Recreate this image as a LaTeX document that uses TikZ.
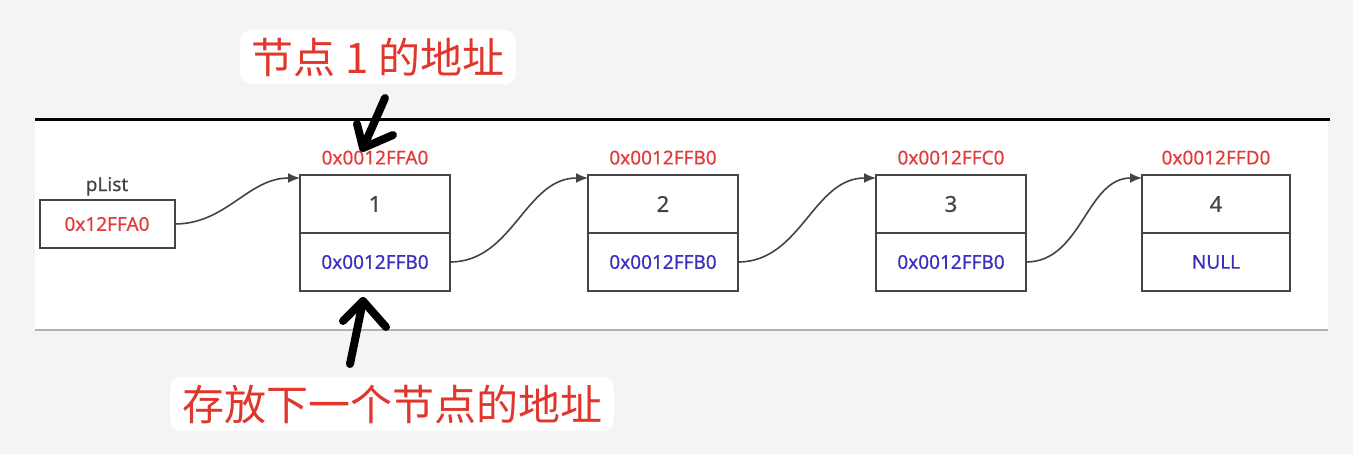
\documentclass[tikz,border=0pt]{standalone}
\usepackage{fontspec}
\setmainfont{Noto Sans}
\newfontfamily\semi[FakeBold=0.5]{Noto Sans}
\newfontfamily\cjk{Noto Sans CJK SC}
\usetikzlibrary{positioning,arrows.meta}
\definecolor{addrred}{HTML}{E23B3B}
\definecolor{ptrblue}{HTML}{3A2FC0}
\definecolor{notered}{HTML}{E0362C}
\definecolor{boxline}{HTML}{444444}
\definecolor{pagebg}{HTML}{F4F4F4}
\tikzset{
  cell/.style={draw=boxline,line width=1pt,minimum width=75pt,minimum height=29pt,inner sep=0pt,outer sep=0pt,text=boxline,font=\semi\fontsize{11}{13}\selectfont},
  ptr/.style={cell,text=ptrblue,font=\semi\fontsize{9.5}{11}\selectfont},
  addr/.style={text=addrred,inner sep=0pt,font=\semi\fontsize{9.5}{11}\selectfont},
  link/.style={draw=boxline,line width=0.8pt,-{Latex[length=6pt,width=5pt]}},
  note/.style={fill=white,rounded corners=6pt,text=notered,inner xsep=6pt,inner ysep=4pt,font=\cjk\fontsize{21}{24}\selectfont},
  hand/.style={line width=4pt,line cap=round,line join=round}
}

\begin{document}
\begin{tikzpicture}[x=0.5pt,y=-0.5pt]
  \useasboundingbox[fill=pagebg] (0,0) rectangle (1353,454);
  \fill[white] (35,120) rectangle (1328,329);
  \draw[line width=1.5pt] (35,120) -- (1330,120);
  \draw[line width=1pt,black!30] (35,330) -- (1328,330);

  \node[cell,minimum width=67.5pt,minimum height=24pt,text=addrred,font=\semi\fontsize{9.5}{11}\selectfont] (plist) at (107,224) {0x12FFA0};
  \node[above=2pt of plist,inner sep=0pt,text=boxline,font=\semi\fontsize{9.5}{11}\selectfont] (plabel) {pList};

  \node[cell] (n1) at (375,204) {1};
  \node[ptr,below=0pt of n1] (p1) {0x0012FFB0};
  \node[cell] (n2) at (663,204) {2};
  \node[ptr,below=0pt of n2] (p2) {0x0012FFB0};
  \node[cell] (n3) at (951,204) {3};
  \node[ptr,below=0pt of n3] (p3) {0x0012FFB0};
  \node[cell,minimum width=74pt] (n4) at (1216,204) {4};
  \node[ptr,minimum width=74pt,below=0pt of n4] (p4) {NULL};

  \node[addr,above=5pt of n1] (a1) {0x0012FFA0};
  \node[addr,above=5pt of n2] (a2) {0x0012FFB0};
  \node[addr,above=5pt of n3] (a3) {0x0012FFC0};
  \node[addr,above=5pt of n4] (a4) {0x0012FFD0};

  \draw[link] (plist.east) to[out=0,in=180] ([yshift=-1.5pt]n1.north west);
  \draw[link] (p1.east) to[out=0,in=180] ([yshift=-1.5pt]n2.north west);
  \draw[link] (p2.east) to[out=0,in=180] ([yshift=-1.5pt]n3.north west);
  \draw[link] (p3.east) to[out=0,in=180] ([yshift=-1.5pt]n4.north west);

  \node[note] (top) at (378,57) {节点 1 的地址};
  \node[note] (bottom) at (392,404) {存放下一个节点的地址};

  \coordinate (t0) at (385,98);
  \coordinate (t1) at (363,148);
  \draw[hand] (t0) -- (t1);
  \draw[hand] (357,124) -- (t1) -- (393,135);
  \coordinate (b0) at (350,364);
  \coordinate (b1) at (363,301);
  \draw[hand] (b0) -- (b1);
  \draw[hand] (343,321) -- (b1) -- (386,327);
\end{tikzpicture}
\end{document}
